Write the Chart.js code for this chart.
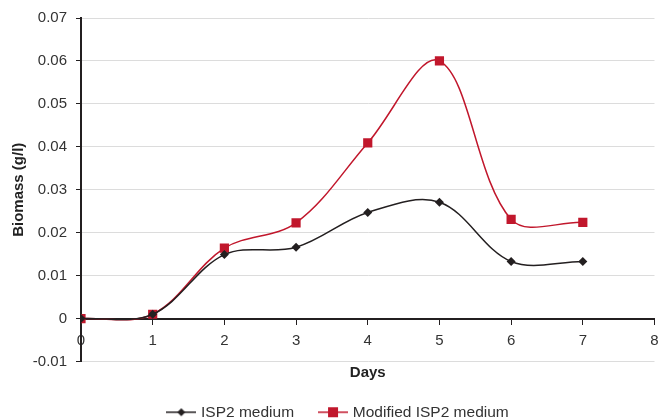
<!DOCTYPE html>
<html>
<head>
<meta charset="utf-8">
<script src="https://cdn.jsdelivr.net/npm/chart.js@4.4.0/dist/chart.umd.min.js"></script>
<style>
  html, body { margin: 0; padding: 0; background: #fff; }
  #wrap { width: 661px; height: 419px; }
</style>
</head>
<body>
<div id="wrap"><canvas id="biomassChart"></canvas></div>
<script>
const days = [0, 1, 2, 3, 4, 5, 6, 7];
const isp2 = [0, 0.001, 0.0149, 0.0166, 0.0247, 0.0271, 0.0133, 0.0133];
const modifiedIsp2 = [0, 0.001, 0.0164, 0.0223, 0.0409, 0.0600, 0.0231, 0.0224];
const seriesNames = ['ISP2 medium', 'Modified ISP2 medium'];

const black = '#231f20';
const red = '#c1172c';

// small legend swatch: line through the marker, like the spreadsheet legend
function swatch(color, shape) {
    const c = document.createElement('canvas');
    c.width = 30; c.height = 12;
    const g = c.getContext('2d');
    g.strokeStyle = color;
    g.lineWidth = 1.5;
    g.beginPath(); g.moveTo(0, 6); g.lineTo(30, 6); g.stroke();
    g.fillStyle = color;
    if (shape === 'diamond') {
        g.beginPath(); g.moveTo(15, 2); g.lineTo(19, 6); g.lineTo(15, 10); g.lineTo(11, 6); g.closePath(); g.fill();
    } else {
        g.fillRect(10, 1, 10, 10);
    }
    return c;
}

const toPoints = vals => days.map((d, i) => ({ x: d, y: vals[i] }));

const ctx = document.getElementById('biomassChart').getContext('2d');
new Chart(ctx, {
    type: 'line',
    data: {
        datasets: [{
            label: seriesNames[0],
            data: toPoints(isp2),
            borderColor: black,
            backgroundColor: black,
            borderWidth: 1.5,
            tension: 0.35,
            pointStyle: 'rectRot',
            pointRadius: 4.5,
            pointBorderWidth: 0
        }, {
            label: seriesNames[1],
            data: toPoints(modifiedIsp2),
            borderColor: red,
            backgroundColor: red,
            borderWidth: 1.5,
            tension: 0.35,
            pointStyle: 'rect',
            pointRadius: 6.5,
            pointBorderWidth: 0
        }]
    },
    options: {
        responsive: true,
        maintainAspectRatio: false,
        animation: false,
        layout: { padding: { left: 17, right: 0, top: 14, bottom: -11 } },
        plugins: {
            legend: {
                position: 'bottom',
                weight: 1000,
                labels: {
                    usePointStyle: true,
                    pointStyleWidth: 24,
                    color: '#333',
                    font: { family: 'Liberation Sans', size: 15.5 },
                    padding: 27,
                    generateLabels: chart => chart.data.datasets.map((ds, i) => ({
                        text: ds.label,
                        pointStyle: swatch(ds.borderColor, i === 0 ? 'diamond' : 'square'),
                        datasetIndex: i,
                        fontColor: '#333',
                        lineWidth: 0
                    }))
                }
            },
            title: {
                display: true,
                position: 'bottom',
                fullSize: false,
                weight: 500,
                text: 'Days',
                color: '#222',
                font: { family: 'Liberation Sans', size: 15, weight: 'bold' },
                padding: { top: 2, bottom: -4 }
            },
            tooltip: { enabled: false }
        },
        scales: {
            x: {
                type: 'linear',
                position: { y: 0 },
                min: 0,
                max: 8,
                ticks: {
                    stepSize: 1,
                    color: '#333',
                    font: { family: 'Liberation Sans', size: 15 },
                    padding: 8
                },
                grid: {
                    drawOnChartArea: false,
                    tickLength: 5,
                    tickColor: black
                },
                border: { color: black, width: 2 },
                afterFit: scale => { scale.height = 0; scale.paddingRight = 3; }
            },
            y: {
                min: -0.01,
                max: 0.07,
                ticks: {
                    stepSize: 0.01,
                    color: '#333',
                    font: { family: 'Liberation Sans', size: 15 },
                    padding: 9,
                    callback: v => Math.abs(v) < 1e-9 ? '0' : v.toFixed(2)
                },
                grid: {
                    color: '#dcdcdc',
                    lineWidth: 1,
                    tickLength: 5,
                    tickColor: black
                },
                border: { color: black, width: 2 },
                title: {
                    display: true,
                    text: 'Biomass (g/l)',
                    color: '#222',
                    font: { family: 'Liberation Sans', size: 15, weight: 'bold' },
                    padding: { top: -7, bottom: 4 }
                },
                afterFit: scale => { scale.width = 64; }
            }
        }
    }
});
</script>
</body>
</html>
